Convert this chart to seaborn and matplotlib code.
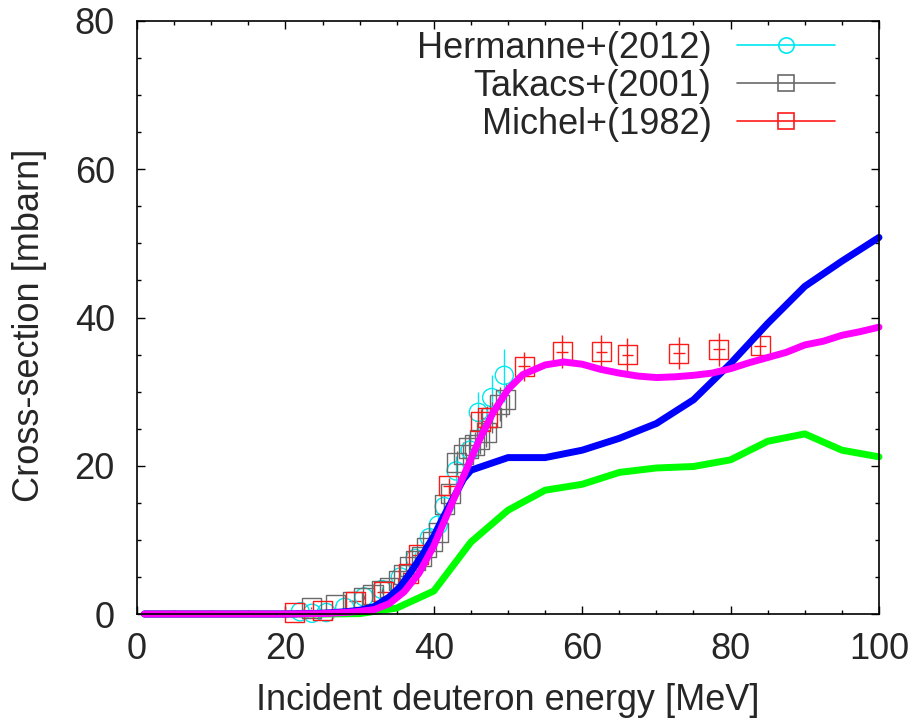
import numpy as np
import pandas as pd
import matplotlib
matplotlib.use("Agg")
import matplotlib.pyplot as plt
from matplotlib.lines import Line2D
from matplotlib.ticker import MultipleLocator
import seaborn as sns

# ---- model curves ----
green_E = [1, 5, 10, 15, 20, 25, 30, 35, 40, 45, 50, 55, 60, 65, 70, 75, 80, 85, 90, 95, 100]
green_s = [0, 0, 0, 0, 0, 0, 0.05, 0.8, 3.1, 9.7, 14.0, 16.7, 17.5, 19.1, 19.7, 19.9, 20.8, 23.3, 24.3, 22.1, 21.2]

blue_E = [1, 5, 10, 15, 20, 25, 28, 30, 32, 34, 35.5, 37, 38.6, 40, 41.3, 43, 44, 45, 50, 55, 60, 65, 70, 75, 80, 85, 90, 95, 100]
blue_s = [0, 0, 0, 0, 0, 0.1, 0.3, 0.5, 1.0, 2.3, 3.7, 5.8, 8.2, 10.5, 13.1, 16.3, 18.2, 19.4, 21.1, 21.1, 22.1, 23.7, 25.7, 28.9, 33.8, 39.2, 44.2, 47.6, 50.8]

mag_E = [1, 5, 10, 15, 20, 25, 28, 30, 32, 34, 36, 38, 40, 42, 44, 46, 48, 50, 52, 55, 57.5, 60, 62.5,
         65, 67.5, 70, 72.5, 75, 77.5, 80, 82.5, 85, 87.5, 90, 92.5, 95, 97.5, 100]
mag_s = [0, 0, 0, 0, 0, 0.05, 0.2, 0.35, 0.6, 1.4, 3.0, 5.5, 9.2, 13.9, 18.6, 23.2, 27.2, 30.3, 32.3, 33.6, 34.0, 33.7, 33.0,
         32.5, 32.1, 31.9, 32.0, 32.2, 32.5, 33.1, 33.9, 34.6, 35.3, 36.3, 36.8, 37.6, 38.1, 38.7]

# ---- experimental data ----
herm_E = [22.0, 23.6, 25.5, 28.0, 30.6, 33.0, 35.5, 37.5, 39.4, 40.6, 41.4, 43.0, 44.9, 46.0, 47.8, 49.5]
herm_s = [0.3, 0.1, 0.2, 0.9, 2.3, 3.3, 5.0, 7.5, 10.3, 12.0, 14.5, 19.3, 22.1, 27.2, 29.2, 32.2]
herm_err = [0.1, 0.1, 0.1, 0.2, 0.3, 0.4, 0.6, 0.8, 1.1, 1.3, 1.6, 2.0, 2.4, 2.8, 3.0, 3.6]

tak_E = [23.5, 26.8, 29.0, 30.6, 31.8, 33.0, 34.1, 35.2, 35.9, 36.7, 37.5, 38.3, 39.0, 39.8, 40.6,
         41.4, 42.2, 43.1, 44.0, 44.7, 45.5, 46.2, 47.1, 47.8, 48.9, 49.7]
tak_s = [0.8, 1.3, 1.7, 2.2, 2.6, 3.1, 3.6, 4.5, 5.3, 6.4, 7.2, 7.8, 9.0, 9.8, 11.0,
         14.8, 16.3, 20.4, 21.5, 22.4, 22.8, 23.5, 24.5, 26.5, 28.3, 28.9]
tak_err = [0.1, 0.1, 0.2, 0.2, 0.2, 0.3, 0.3, 0.4, 0.4, 0.5, 0.6, 0.6, 0.7, 0.8, 0.9,
           1.2, 1.3, 1.6, 1.7, 1.8, 1.8, 1.9, 2.0, 2.1, 2.3, 2.3]

mich_E = [21.2, 25.0, 29.4, 33.2, 36.6, 37.9, 42.0, 46.3, 47.2, 52.2, 57.3, 62.6, 66.1, 73.0, 78.4, 84.0]
mich_s = [0.2, 0.5, 1.7, 3.0, 5.5, 8.0, 17.3, 26.0, 26.5, 33.4, 35.4, 35.4, 35.0, 35.2, 35.7, 36.2]
mich_err = [0.1, 0.1, 0.2, 0.3, 0.4, 0.6, 1.1, 1.6, 1.6, 2.0, 2.2, 2.2, 2.2, 2.2, 2.2, 2.2]
mich_xerr = 0.8

legend_labels = ["Hermanne+(2012)", "Takacs+(2001)", "Michel+(1982)"]

C_CYAN = "#00e8f0"
C_GRAY = "#6a6a6a"
C_RED = "#ff1a1a"

sns.set_style("ticks")
plt.rcParams["font.family"] = ["Liberation Sans", "DejaVu Sans"]
plt.rcParams["font.size"] = 26

fig = plt.figure(figsize=(9.18, 7.28), dpi=100)
ax = fig.add_axes([137 / 918, 1 - 614 / 728, (879 - 137) / 918, (614 - 21) / 728])

# data points first (drawn below curves)
common = dict(fmt="none", elinewidth=1.0, capsize=0, zorder=1.5, clip_on=False)
ax.errorbar(herm_E, herm_s, yerr=herm_err, ecolor=C_CYAN, **common)
ax.errorbar(tak_E, tak_s, yerr=tak_err, ecolor=C_GRAY, **common)
ax.errorbar(mich_E, mich_s, yerr=mich_err, xerr=mich_xerr, ecolor=C_RED, **common)

sns.scatterplot(x=herm_E, y=herm_s, ax=ax, marker="o", s=170, facecolor="none",
                edgecolor=C_CYAN, linewidth=1.0, zorder=1.6, clip_on=False)
sns.scatterplot(x=tak_E, y=tak_s, ax=ax, marker="s", s=190, facecolor="none",
                edgecolor=C_GRAY, linewidth=1.0, zorder=1.6, clip_on=False)
sns.scatterplot(x=mich_E, y=mich_s, ax=ax, marker="s", s=190, facecolor="none",
                edgecolor=C_RED, linewidth=1.0, zorder=1.6, clip_on=False)

curves = pd.concat([
    pd.DataFrame({"E": green_E, "xs": green_s, "model": "g"}),
    pd.DataFrame({"E": blue_E, "xs": blue_s, "model": "b"}),
    pd.DataFrame({"E": mag_E, "xs": mag_s, "model": "m"}),
])
sns.lineplot(data=curves, x="E", y="xs", hue="model", hue_order=["g", "b", "m"],
             palette={"g": "#00ff00", "b": "#0000ff", "m": "#ff00ff"},
             estimator=None, sort=False, linewidth=5.0, legend=False, ax=ax, zorder=2)
for ln in ax.get_lines():
    ln.set_clip_on(False)
    ln.set_solid_capstyle("round")

ax.set_xlim(0, 100)
ax.set_ylim(0, 80)
ax.xaxis.set_major_locator(MultipleLocator(20))
ax.xaxis.set_minor_locator(MultipleLocator(5))
ax.yaxis.set_major_locator(MultipleLocator(20))
ax.yaxis.set_minor_locator(MultipleLocator(5))
ax.tick_params(which="both", direction="in", top=True, right=True, width=1.0, color="black")
ax.tick_params(which="major", length=6)
ax.tick_params(which="minor", length=3)
ax.tick_params(axis="x", which="major", pad=13, labelsize=26)
ax.tick_params(axis="y", which="major", pad=16, labelsize=26)
for sp in ax.spines.values():
    sp.set_linewidth(1.2)
    sp.set_color("black")
    sp.set_zorder(3)

ax.set_xlabel("Incident deuteron energy [MeV]", fontsize=26)
ax.set_ylabel("Cross-section [mbarn]", fontsize=26)
ax.xaxis.set_label_coords(0.5, -0.116)
ax.yaxis.set_label_coords(-0.121, 0.486)

handles = [
    Line2D([], [], color=C_CYAN, lw=1.2, marker="o", ms=11, mfc="none", mec=C_CYAN, mew=1.2),
    Line2D([], [], color=C_GRAY, lw=1.2, marker="s", ms=11, mfc="none", mec=C_GRAY, mew=1.2),
    Line2D([], [], color=C_RED, lw=1.2, marker="s", ms=11, mfc="none", mec=C_RED, mew=1.2),
]
ax.legend(handles, legend_labels, loc="upper right", bbox_to_anchor=(0.9407, 0.983),
          frameon=False, markerfirst=False, handlelength=2.7, handletextpad=0.72,
          labelspacing=0.08, borderpad=0, borderaxespad=0, fontsize=26)

fig.savefig("out.png", dpi=100)
